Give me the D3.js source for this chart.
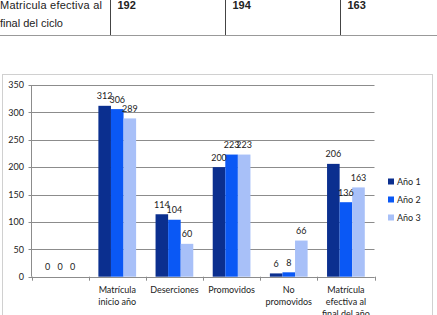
<!DOCTYPE html>
<html>
<head>
<meta charset="utf-8">
<script src="https://cdn.jsdelivr.net/npm/d3@7"></script>
<style>
  body { margin: 0; background: #fff; }
  svg { display: block; }
</style>
</head>
<body>
<svg id="chart" width="437" height="315"></svg>
<script>
// table fragment above the chart
var tableCells = ['192', '194', '163'];

// chart data
var categories = ['', 'Matrícula inicio año', 'Deserciones', 'Promovidos', 'No promovidos', 'Matrícula efectiva al final del año'];
var seriesNames = ['Año 1', 'Año 2', 'Año 3'];
var ano1 = [0, 312, 114, 200, 6, 206];
var ano2 = [0, 306, 104, 223, 8, 136];
var ano3 = [0, 289, 60, 223, 66, 163];
var yTicks = [0, 50, 100, 150, 200, 250, 300, 350];
var colors = ['#0b2f8f', '#0a58f5', '#a8c0f8'];

var svg = d3.select('#chart');
var lblFont = 'Lato, "DejaVu Sans", sans-serif';

// --- table bit
var tbl = svg.append('g');
tbl.append('text').attr('x', 0).attr('y', 8.5).attr('font-family', 'Liberation Sans, Arial')
  .attr('font-size', 11).attr('fill', '#222').attr('textLength', 102).attr('lengthAdjust', 'spacing')
  .text('Matricula efectiva al');
tbl.append('text').attr('x', 0).attr('y', 26.5).attr('font-family', 'Liberation Sans, Arial')
  .attr('font-size', 11).attr('fill', '#222').text('final del ciclo');
var colX = [110.5, 225.5, 340.5];
colX.forEach(function(cx, i) {
  tbl.append('line').attr('x1', cx).attr('x2', cx).attr('y1', 0).attr('y2', 35).attr('stroke', '#444');
  tbl.append('text').attr('x', cx + 7).attr('y', 8.5).attr('font-family', 'Liberation Sans, Arial')
    .attr('font-size', 11).attr('font-weight', 'bold').attr('fill', '#222').text(tableCells[i]);
});
tbl.append('line').attr('x1', 0).attr('x2', 437).attr('y1', 35.5).attr('y2', 35.5).attr('stroke', '#999');

// --- chart box
svg.append('rect').attr('x', 2.5).attr('y', 74.5).attr('width', 430).attr('height', 260)
  .attr('fill', '#fff').attr('stroke', '#d0d0d0');

var plotL = 31.5, plotR = 374.5, plotT = 85, plotB = 276.7;

var x = d3.scaleBand().domain(categories).range([plotL, plotR]);
var xs = d3.scaleBand().domain(seriesNames).range([x.bandwidth() * 0.17, x.bandwidth() * 0.83]);
var y = d3.scaleLinear().domain([0, 350]).range([plotB, plotT]);

// gridlines
svg.append('g').selectAll('line').data(yTicks).join('line')
  .attr('x1', plotL - 3).attr('x2', plotR)
  .attr('y1', function(d) { return Math.round(y(d)) + 0.5; })
  .attr('y2', function(d) { return Math.round(y(d)) + 0.5; })
  .attr('stroke', '#8c8c8c').attr('stroke-width', 1);

// y labels
svg.append('g').selectAll('text').data(yTicks).join('text')
  .attr('x', 24).attr('y', function(d) { return y(d) + 3.2; })
  .attr('text-anchor', 'end').attr('font-family', lblFont).attr('font-size', 9).attr('fill', '#222')
  .text(function(d) { return d; });

// y axis line
svg.append('line').attr('x1', plotL).attr('x2', plotL).attr('y1', plotT).attr('y2', plotB)
  .attr('stroke', '#8c8c8c');

// bars
var series = [ano1, ano2, ano3];
series.forEach(function(vals, s) {
  var g = svg.append('g');
  g.selectAll('rect').data(vals).join('rect')
    .attr('x', function(d, i) { return x(categories[i]) + xs(seriesNames[s]); })
    .attr('y', function(d) { return y(d); })
    .attr('width', xs.bandwidth())
    .attr('height', function(d) { return y(0) - y(d); })
    .attr('fill', colors[s]);
});
series.forEach(function(vals, s) {
  svg.append('g').selectAll('text').data(vals).join('text')
    .attr('x', function(d, i) { return x(categories[i]) + xs(seriesNames[s]) + xs.bandwidth() / 2; })
    .attr('y', function(d) { return y(d) - 6.5; })
    .attr('text-anchor', 'middle').attr('font-family', lblFont).attr('font-size', 9).attr('fill', '#222')
    .text(function(d) { return d; });
});

// x axis line + ticks
svg.append('line').attr('x1', plotL).attr('x2', plotR).attr('y1', Math.round(plotB) + 0.5).attr('y2', Math.round(plotB) + 0.5)
  .attr('stroke', '#8c8c8c');
var bounds = categories.map(function(c) { return x(c); }).concat([plotR]);
svg.append('g').selectAll('line').data(bounds).join('line')
  .attr('x1', function(d) { return Math.round(d) + 0.5; })
  .attr('x2', function(d) { return Math.round(d) + 0.5; })
  .attr('y1', plotB).attr('y2', plotB + 4).attr('stroke', '#8c8c8c');

// category labels (wrapped like the original)
var wrapped = {
  'Matrícula inicio año': ['Matrícula', 'inicio año'],
  'Deserciones': ['Deserciones'],
  'Promovidos': ['Promovidos'],
  'No promovidos': ['No', 'promovidos'],
  'Matrícula efectiva al final del año': ['Matrícula', 'efectiva al', 'final del año']
};
categories.forEach(function(c) {
  var lines = wrapped[c] || [];
  var t = svg.append('text').attr('text-anchor', 'middle').attr('font-family', lblFont)
    .attr('font-size', 9).attr('fill', '#222');
  lines.forEach(function(l, k) {
    t.append('tspan').attr('x', x(c) + x.bandwidth() / 2).attr('y', 292.5 + k * 12).text(l);
  });
});

// legend
var leg = svg.append('g');
seriesNames.forEach(function(n, i) {
  var yy = 181.5 + i * 18;
  leg.append('rect').attr('x', 388).attr('y', yy - 3).attr('width', 6).attr('height', 6).attr('fill', colors[i]);
  leg.append('text').attr('x', 397).attr('y', yy + 3.2).attr('font-family', lblFont)
    .attr('font-size', 9).attr('fill', '#222').text(n);
});
</script>
</body>
</html>
